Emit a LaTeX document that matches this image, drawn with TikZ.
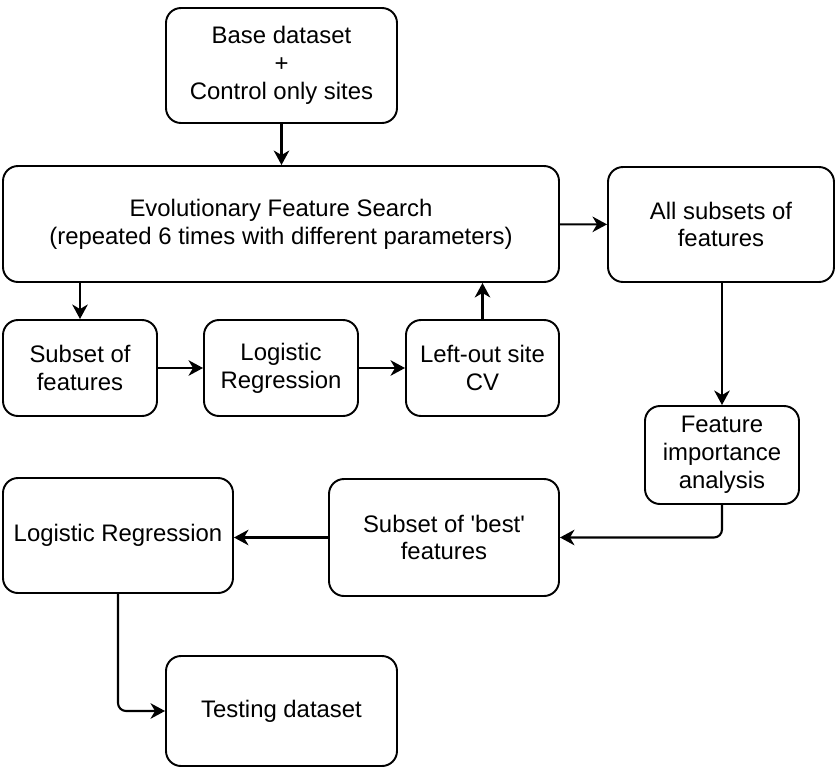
\documentclass[tikz,border=0pt]{standalone}
\usepackage{fontspec}
\setmainfont{Liberation Sans}
\usepackage{tikz}
\usetikzlibrary{arrows.meta,positioning,calc}
\tikzset{
  box/.style={draw,line width=1.1pt,rounded corners=0.3cm,align=center,font=\fontsize{13.6}{15.8}\selectfont,inner sep=4pt},
  arr/.style={-{Stealth[length=2.9mm,width=3.1mm,inset=0.9mm]},line width=1.2pt},
}
\begin{document}
\begin{tikzpicture}
\useasboundingbox (0,0) rectangle (16.7,-15.38);
\node[box,minimum width=4.62cm,minimum height=2.3cm] (base) at (5.63,-1.31) {Base dataset\\+\\Control only sites};
\node[box,minimum width=11.12cm,minimum height=2.32cm] (efs) at (5.62,-4.48) {Evolutionary Feature Search\\(repeated 6 times with different parameters)};
\node[box,minimum width=4.52cm,minimum height=2.3cm] (allsub) at (14.42,-4.49) {All subsets of\\features};
\node[box,minimum width=3.08cm,minimum height=1.92cm] (subf) at (1.6,-7.36) {Subset of\\features};
\node[box,minimum width=3.08cm,minimum height=1.92cm] (logr) at (5.62,-7.36) {Logistic\\Regression};
\node[box,minimum width=3.06cm,minimum height=1.92cm] (loso) at (9.65,-7.36) {Left-out site\\CV};
\node[box,minimum width=3.08cm,minimum height=1.96cm] (feat) at (14.44,-9.1) {Feature\\importance\\analysis};
\node[box,minimum width=4.6cm,minimum height=2.34cm] (best) at (8.88,-10.75) {Subset of \textquotesingle best\textquotesingle\\features};
\node[box,minimum width=4.6cm,minimum height=2.3cm] (logb) at (2.36,-10.71) {Logistic Regression};
\node[box,minimum width=4.62cm,minimum height=2.2cm] (test) at (5.63,-14.22) {Testing dataset};
\draw[arr] (base)--(base|-efs.north);
\draw[arr] (efs)--(allsub);
\draw[arr] (allsub.south-|feat.north)--(feat);
\draw[arr] (efs.south-|subf.north)--(subf);
\draw[arr] (subf)--(logr);
\draw[arr] (logr)--(loso);
\draw[arr] (loso)--(loso|-efs.south);
\draw[arr,rounded corners=0.16cm] (feat.south)|-(best.east);
\draw[arr] (best.west)--(best.west-|logb.east);
\draw[arr,rounded corners=0.16cm] (logb.south)|-(test.west);
\end{tikzpicture}
\end{document}
